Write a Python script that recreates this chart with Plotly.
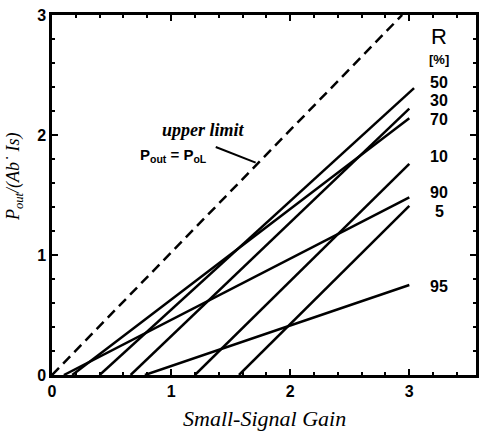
import plotly.graph_objects as go

# Data
r_labels = ["50", "30", "70", "10", "90", "5", "95"]
threshold_gain = [0.40, 0.66, 0.17, 1.20, 0.10, 1.57, 0.78]
end_gain = [3.04, 3.0, 3.0, 3.0, 3.0, 3.0, 3.0]
end_power = [2.39, 2.22, 2.14, 1.76, 1.48, 1.41, 0.75]
label_power = [2.44, 2.29, 2.13, 1.82, 1.52, 1.36, 0.74]
label_gain = 3.25

limit_gain = [0.0, 2.94]
limit_power = [0.0, 3.0]

fig = go.Figure()
fig.add_trace(go.Scatter(x=limit_gain, y=limit_power, mode="lines",
                         line=dict(color="black", width=2.5, dash="10px,6px"),
                         showlegend=False, hoverinfo="skip"))
for t, xe, ye in zip(threshold_gain, end_gain, end_power):
    fig.add_trace(go.Scatter(x=[t, xe], y=[0, ye], mode="lines",
                             line=dict(color="black", width=2.5),
                             showlegend=False, hoverinfo="skip"))

lbl_font = dict(family="Liberation Sans", size=16, color="black")
for lab, yp in zip(r_labels, label_power):
    fig.add_annotation(x=label_gain, y=yp, text="<b>" + lab + "</b>", showarrow=False,
                       font=lbl_font, xanchor="center", yanchor="middle")
fig.add_annotation(x=label_gain, y=2.82, text="R", showarrow=False,
                   font=dict(family="Liberation Sans", size=22, color="black"),
                   xanchor="center", yanchor="middle")
fig.add_annotation(x=label_gain, y=2.63, text="<b>[%]</b>", showarrow=False,
                   font=dict(family="Liberation Sans", size=13, color="black"),
                   xanchor="center", yanchor="middle")

fig.add_annotation(x=1.27, y=2.04, text="<b><i>upper limit</i></b>", showarrow=False,
                   font=dict(family="Liberation Serif", size=18, color="black"),
                   xanchor="center", yanchor="middle")
fig.add_shape(type="line", x0=1.375, y0=1.90, x1=1.71, y1=1.77, xref="x", yref="y",
              line=dict(color="black", width=2))
fig.add_annotation(x=0.72, y=1.83,
                   text="<b>P<sub>out</sub> = P<sub>oL</sub></b>", showarrow=False,
                   font=dict(family="Liberation Sans", size=15, color="black"),
                   xanchor="left", yanchor="middle")

# axis titles placed as annotations
fig.add_annotation(xref="paper", yref="paper", x=0.50, y=-0.12,
                   text="<i>Small-Signal Gain</i>", showarrow=False,
                   font=dict(family="Liberation Serif", size=22, color="black"),
                   xanchor="center", yanchor="middle")
fig.add_annotation(xref="paper", yref="paper", x=-0.087, y=0.55,
                   text="<i>P<sub>out</sub>/(Ab˙ Is)</i>", showarrow=False, textangle=-90,
                   font=dict(family="Liberation Serif", size=18, color="black"),
                   xanchor="center", yanchor="middle")

axis_common = dict(showline=True, linecolor="black", linewidth=2.5, mirror="ticks",
                   ticks="inside", ticklen=6, tickwidth=2, tickcolor="black",
                   showgrid=False, zeroline=False,
                   tickfont=dict(family="Liberation Sans", size=16, color="black"),
                   minor=dict(dtick=0.2, ticks="inside", ticklen=3, tickwidth=1.5,
                              tickcolor="black", showgrid=False))

fig.update_xaxes(range=[0, 3.56], tickvals=[0, 1, 2, 3],
                 ticktext=["<b>0</b>", "<b>1</b>", "<b>2</b>", "<b>3</b>"],
                 **axis_common)
fig.update_yaxes(range=[0, 3], tickvals=[0, 1, 2, 3],
                 ticktext=["<b>0</b>", "<b>1</b>", "<b>2</b>", "<b>3</b>"],
                 **axis_common)

fig.update_layout(width=479, height=431, margin=dict(l=52, r=0, t=15, b=56),
                  plot_bgcolor="white", paper_bgcolor="white")

fig.write_html("out.html")
